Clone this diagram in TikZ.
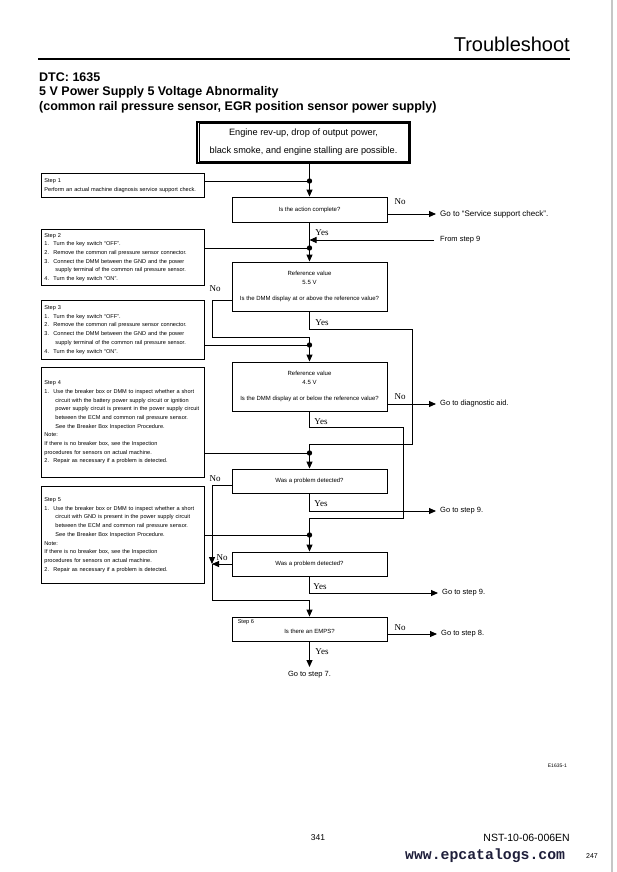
\documentclass[tikz,border=0pt]{standalone}
\usepackage{fontspec}
\setmainfont{Liberation Sans}
\newfontfamily\ynserif{Liberation Serif}
\newfontfamily\wwwmono{Liberation Mono}
\usepackage{tikz}
\usetikzlibrary{arrows.meta,calc,positioning}
\definecolor{wwwblue}{HTML}{1E1E3A}
\newcommand{\stepfont}{\fontsize{5.6}{8.7}\selectfont}
\newcommand{\askfont}{\fontsize{6}{8.7}\selectfont}
\newcommand{\gofont}{\fontsize{7.5}{9}\selectfont}
\newcommand{\stepnum}[1]{\makebox[9pt][l]{#1}}
\newcommand{\stepind}{\hspace*{11pt}}
\tikzset{
    mystep/.style={draw=black,line width=0.9pt,anchor=north west,align=left,
      inner sep=0pt,minimum width=163pt,text width=157pt,font=\stepfont},
    myask/.style={draw=black,line width=0.9pt,minimum width=155pt,align=center,
      inner sep=0pt,font=\askfont},
    myedge/.style={line width=0.9pt,draw=black},
    myarrow/.style={myedge,-{Triangle[length=7pt,width=6pt]}},
    mygoarrow/.style={myarrow,shorten >=4pt},
    myyn/.style={font=\ynserif\fontsize{9}{10}\selectfont,inner sep=0pt},
    mygoto/.style={anchor=west,font=\gofont,inner sep=0pt},
    mytitle/.style={anchor=west,font=\bfseries\fontsize{12.5}{14}\selectfont,inner sep=0pt}
}
\begin{document}
\begin{tikzpicture}[x=1pt,y=-1pt]
  \useasboundingbox (0,0) rectangle (616,872);
  \draw[gray!45,line width=1.5pt] (612,0) -- (612,872);

  % page header
  \node[anchor=east,font=\fontsize{20}{24}\selectfont,inner sep=0pt] (hdr) at (570,44) {Troubleshoot};
  \draw[line width=1.1pt] (38,59) -- (570,59);
  \node[mytitle] (dtc) at (39,77) {DTC: 1635};
  \node[mytitle] (ttl) at (39,92) {5 V Power Supply 5 Voltage Abnormality};
  \node[mytitle] (sub) at (39,107) {(common rail pressure sensor, EGR position sensor power supply)};

  % symptom box
  \node[draw=black,line width=1.4pt,minimum width=213pt,minimum height=41pt,inner sep=0pt,
    align=center,font=\fontsize{9.2}{18}\selectfont] (Top) at (303.5,142.5)
    {Engine rev-up, drop of output power,\\black smoke, and engine stalling are possible.};
  \draw[line width=0.6pt] ([shift={(2.5pt,-2.5pt)}]Top.north west) rectangle ([shift={(-2.5pt,2.5pt)}]Top.south east);

  % steps
  \node[mystep,minimum height=24pt] (S1) at (41,173)
    {Step 1\\Perform an actual machine diagnosis service support check.};
  \node[mystep,minimum height=56pt] (S2) at (41,229)
    {Step 2\\
     \stepnum{1.}Turn the key switch “OFF”.\\
     \stepnum{2.}Remove the common rail pressure sensor connector.\\
     \stepnum{3.}Connect the DMM between the GND and the power\\
     \stepind supply terminal of the common rail pressure sensor.\\
     \stepnum{4.}Turn the key switch “ON”.};
  \node[mystep,minimum height=59pt] (S3) at (41,300)
    {Step 3\\
     \stepnum{1.}Turn the key switch “OFF”.\\
     \stepnum{2.}Remove the common rail pressure sensor connector.\\
     \stepnum{3.}Connect the DMM between the GND and the power\\
     \stepind supply terminal of the common rail pressure sensor.\\
     \stepnum{4.}Turn the key switch “ON”.};
  \node[mystep,minimum height=110pt] (S4) at (41,367)
    {Step 4\\
     \stepnum{1.}Use the breaker box or DMM to inspect whether a short\\
     \stepind circuit with the battery power supply circuit or ignition\\
     \stepind power supply circuit is present in the power supply circuit\\
     \stepind between the ECM and common rail pressure sensor.\\
     \stepind See the Breaker Box Inspection Procedure.\\
     Note:\\
     If there is no breaker box, see the Inspection\\
     procedures for sensors on actual machine.\\
     \stepnum{2.}Repair as necessary if a problem is detected.};
  \node[mystep,minimum height=97pt] (S5) at (41,486)
    {Step 5\\
     \stepnum{1.}Use the breaker box or DMM to inspect whether a short\\
     \stepind circuit with GND is present in the power supply circuit\\
     \stepind between the ECM and common rail pressure sensor.\\
     \stepind See the Breaker Box Inspection Procedure.\\
     Note:\\
     If there is no breaker box, see the Inspection\\
     procedures for sensors on actual machine.\\
     \stepnum{2.}Repair as necessary if a problem is detected.};

  % questions
  \node[myask,minimum height=25pt] (Q1) at (309.5,209.5) {Is the action complete?};
  \node[myask,minimum height=49pt] (Q2) at (309.5,286.5)
    {Reference value\\5.5 V\\[8pt]Is the DMM display at or above the reference value?};
  \node[myask,minimum height=49pt] (Q3) at (309.5,386.5)
    {Reference value\\4.5 V\\[8pt]Is the DMM display at or below the reference value?};
  \node[myask,minimum height=24pt] (Q4) at (309.5,481) {Was a problem detected?};
  \node[myask,minimum height=24pt] (Q5) at (309.5,564) {Was a problem detected?};
  \node[myask,minimum height=24pt] (Q6) at (309.5,629) {\\[1pt]Is there an EMPS?};
  \node[anchor=north west,font=\stepfont,inner sep=0pt] (S6tag)
    at ([shift={(6pt,-3pt)}]Q6.north west) {Step 6};

  % exits
  \node[mygoto,font=\fontsize{8}{9}\selectfont] (GSvc) at (440,214) {Go to “Service support check”.};
  \node[mygoto] (From9) at (440,240) {From step 9};
  \node[mygoto] (GDiag) at (440,404) {Go to diagnostic aid.};
  \node[mygoto] (G9a) at (440,511) {Go to step 9.};
  \node[mygoto] (G9b) at (442,593) {Go to step 9.};
  \node[mygoto] (G8) at (441,634) {Go to step 8.};
  \node[mygoto,anchor=north] (G7) at (309.5,671) {Go to step 7.};

  % junctions and bends
  \coordinate (J1) at (309.5,181);
  \coordinate (J2) at (309.5,248);
  \coordinate (J3) at (309.5,345);
  \coordinate (J4) at (309.5,453);
  \coordinate (J5) at (309.5,535);
  \coordinate (N2) at (212,337);
  \coordinate (Y2a) at (412,329);
  \coordinate (Y2b) at (412,444);
  \coordinate (Y3a) at (403,427);
  \coordinate (Y3b) at (403,518);
  \coordinate (M5) at (212,564);
  \coordinate (L6) at (212,600);

  % main run
  \draw[myedge] (Top.south -| J1) -- (J1);
  \draw[myedge] (S1.east |- J1) -- (J1);
  \draw[myarrow] (J1) -- (Q1.north);
  \draw[mygoarrow] (Q1.east |- GSvc.west) -- (GSvc.west);
  \draw[myedge] (Q1.south) -- (J2);
  \draw[myarrow,shorten <=6pt] (From9.west) -- (From9.west -| J2);
  \draw[myedge] (S2.east |- J2) -- (J2);
  \draw[myarrow] (J2) -- (Q2.north);

  \draw[myedge] ([yshift=11pt]Q2.south west) -| (N2) -- (N2 -| J3) -- (J3);
  \draw[myedge] (Q2.south) |- (Y2a) -- (Y2b) -| (J4);
  \draw[myedge] (S3.east |- J3) -- (J3);
  \draw[myarrow] (J3) -- (Q3.north);

  \draw[mygoarrow] (Q3.east |- GDiag.west) -- (GDiag.west);
  \draw[myedge] (Q3.south) |- (Y3a) -- (Y3b) -| (J5);
  \draw[myedge] (S4.east |- J4) -- (J4);
  \draw[myarrow] (J4) -- (Q4.north);

  \draw[myarrow] ([yshift=8pt]Q4.south west) -| (M5);
  \draw[myedge] (M5) -- (L6);
  \draw[myarrow] (L6) -| (Q6.north);
  \draw[mygoarrow] (Q4.south) |- (G9a.west);
  \draw[myedge] (S5.east |- J5) -- (J5);
  \draw[myarrow] (J5) -- (Q5.north);

  \draw[myarrow] (Q5.west) -- (Q5.west -| M5);
  \draw[mygoarrow] (Q5.south) |- (G9b.west);
  \draw[mygoarrow] (Q6.east |- G8.west) -- (G8.west);
  \draw[mygoarrow] (Q6.south) -- (G7.north);

  \foreach \J in {J1,J2,J3,J4,J5}{
    \fill[black] (\J) circle (2.7pt);
  }

  % answers
  \node[myyn] (y1) at (322,233) {Yes};
  \node[myyn] (y2) at (322,323) {Yes};
  \node[myyn] (y3) at (321,422) {Yes};
  \node[myyn] (y4) at (321,504) {Yes};
  \node[myyn] (y5) at (320,587) {Yes};
  \node[myyn] (y6) at (322,652) {Yes};
  \node[myyn] (n1) at (400,202) {No};
  \node[myyn] (n2) at (215,289) {No};
  \node[myyn] (n3) at (400,397) {No};
  \node[myyn] (n4) at (215,479) {No};
  \node[myyn] (n5) at (222,558) {No};
  \node[myyn] (n6) at (400,628) {No};

  % page footer
  \node[anchor=east,font=\fontsize{5}{6}\selectfont,inner sep=0pt] (fig) at (567,766) {E1635-1};
  \node[font=\fontsize{8.5}{10}\selectfont,inner sep=0pt] (pg) at (318,838) {341};
  \node[anchor=east,font=\fontsize{10.5}{12}\selectfont,inner sep=0pt] (docno) at (570,838) {NST-10-06-006EN};
  \node[anchor=west,font=\wwwmono\bfseries\fontsize{14.8}{16}\selectfont,text=wwwblue,inner sep=0pt] (www) at (405,856) {www.epcatalogs.com};
  \node[font=\fontsize{7}{8}\selectfont,inner sep=0pt] (pgno) at (592,856) {247};
\end{tikzpicture}
\end{document}
